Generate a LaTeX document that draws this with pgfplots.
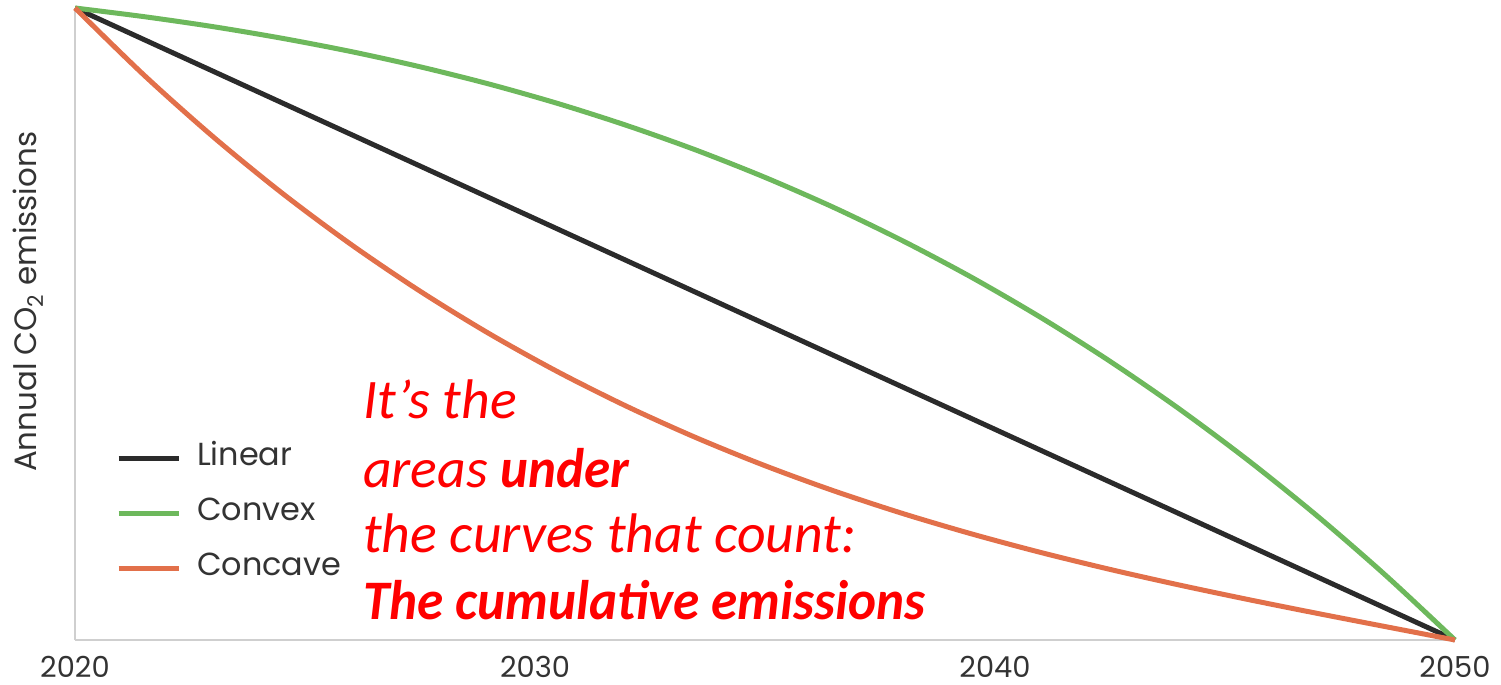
\documentclass[border=0pt]{standalone}
\usepackage{fontspec}
\setmainfont{Poppins}
\newfontfamily\carlito{Carlito}
\usepackage{graphicx}
\usepackage{pgfplots}
\pgfplotsset{compat=1.18}
\definecolor{cblack}{HTML}{2B2B2B}
\definecolor{cgreen}{HTML}{6DB85C}
\definecolor{corange}{HTML}{E2704A}
\definecolor{caxis}{HTML}{CFCFCF}
\definecolor{ctext}{HTML}{333333}
\pgfplotstableread{
x y
2020 100
2050 0
}\linear
\pgfplotstableread{
x y
2020.0 100
2021.5 98.63
2023.0 97.05
2024.5 95.21
2026.0 93.11
2027.5 90.70
2029.0 87.97
2030.5 84.88
2032.0 81.40
2033.5 77.52
2035.0 73.20
2036.5 68.42
2038.0 63.14
2039.5 57.35
2041.0 51.01
2042.5 44.10
2044.0 36.59
2045.5 28.45
2047.0 19.66
2048.5 10.18
2050.0 0
}\convex
\pgfplotstableread{
x y
2020.0 100
2021.5 89.38
2023.0 79.64
2024.5 70.72
2026.0 62.59
2027.5 55.20
2029.0 48.49
2030.5 42.42
2032.0 36.95
2033.5 32.02
2035.0 27.58
2036.5 23.59
2038.0 20.00
2039.5 16.77
2041.0 13.84
2042.5 11.17
2044.0 8.71
2045.5 6.41
2047.0 4.22
2048.5 2.10
2050.0 0
}\concave
\begin{document}
\begin{tikzpicture}
\useasboundingbox (-75bp,-45bp) rectangle (1426bp,640bp);
\begin{axis}[
 width=1380bp, height=632bp, scale only axis,
 xmin=2020, xmax=2050, ymin=0, ymax=100,
 axis x line*=bottom, axis y line*=left,
 axis line style={draw=caxis, line width=1.5bp},
 xtick={2020,2030,2040,2050}, ytick=\empty,
 major tick length=0pt,
 xticklabel style={font=\fontsize{29}{34}\selectfont, text=ctext, anchor=base, yshift=-37bp, inner sep=0pt},
 /pgf/number format/1000 sep={}, /pgf/number format/assume math mode=true,
 ylabel={Annual CO\textsubscript{2} emissions},
 every axis y label/.style={at={(axis description cs:-0.034,0.535)}, rotate=90, anchor=center, font=\fontsize{31}{38}\selectfont, text=ctext},
 legend style={at={(axis description cs:0.0275,0.318)}, anchor=north west, draw=none, fill=none, font=\fontsize{32}{39}\selectfont, text=ctext, row sep=31bp, nodes={inner sep=0pt}, cells={anchor=west}, /tikz/every odd column/.append style={column sep=16bp}},
 legend image code/.code={\draw[#1, line width=5bp] (0bp,-4bp) -- (60bp,-4bp);},
 clip=false,
]
\addplot[cblack, line width=5bp] table[x=x,y=y] {\linear};
\addlegendentry{Linear}
\addplot[cgreen, line width=5bp, smooth] table[x=x,y=y] {\convex};
\addlegendentry{Convex}
\addplot[corange, line width=5bp, smooth] table[x=x,y=y] {\concave};
\addlegendentry{Concave}
\node[anchor=base west, inner sep=0pt, text=red, font=\carlito\itshape\fontsize{56}{67}\selectfont] at (axis cs:2026.26,35.0) {It’s the};
\node[anchor=base west, inner sep=0pt, text=red, font=\carlito\itshape\fontsize{56}{67}\selectfont] at (axis cs:2026.26,24.2) {areas \scalebox{0.95}[1]{\bfseries under}};
\node[anchor=base west, inner sep=0pt, text=red, font=\carlito\itshape\fontsize{56}{67}\selectfont] at (axis cs:2026.26,13.8) {the curves that count:};
\node[anchor=base west, inner sep=0pt, text=red, font=\carlito\itshape\bfseries\fontsize{56}{67}\selectfont] at (axis cs:2026.26,3.2) {\scalebox{0.953}[1]{The cumulative emissions}};
\end{axis}
\end{tikzpicture}
\end{document}
